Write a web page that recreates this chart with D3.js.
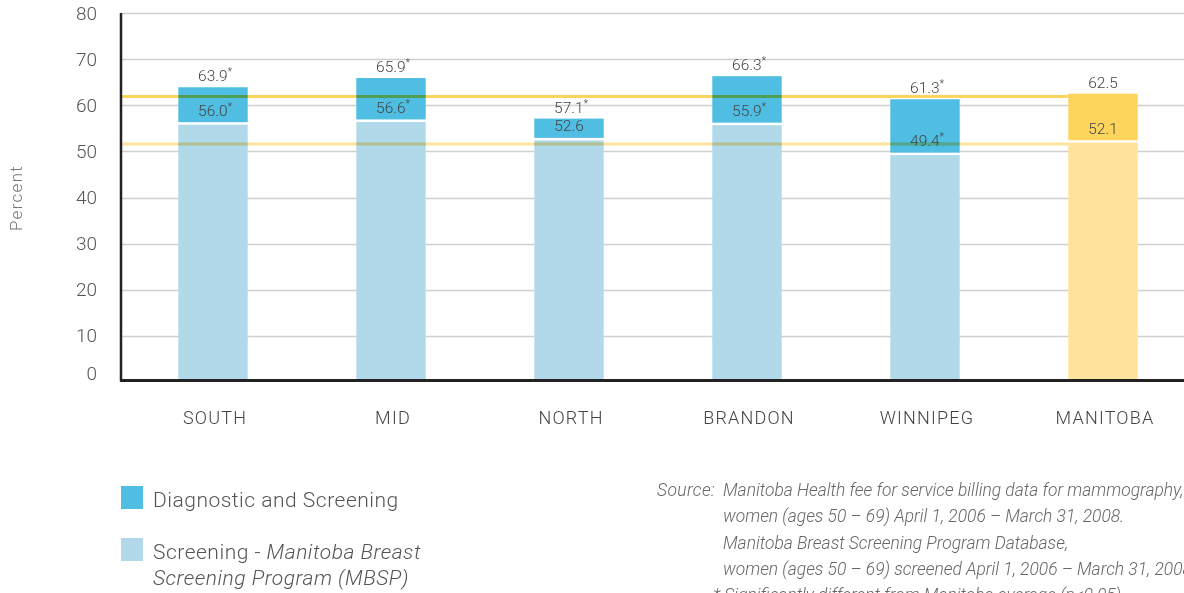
<!DOCTYPE html>
<html><head><meta charset="utf-8">
<script src="https://cdn.jsdelivr.net/npm/d3@7"></script>
<style>
body{margin:0;background:#fff;overflow:hidden;}
svg{display:block;font-family:Roboto, "Open Sans", sans-serif;}
</style></head>
<body><svg id="c" width="1184" height="593"></svg>
<script>
const categories = ["SOUTH","MID","NORTH","BRANDON","WINNIPEG","MANITOBA"];
const totalValues = [63.9,65.9,57.1,66.3,61.3,62.5];
const screeningValues = [56.0,56.6,52.6,55.9,49.4,52.1];
const totalSig = [true,true,true,true,true,false];
const screeningSig = [true,true,false,true,true,false];
const refLineValues = [61.9,51.6];
const yTicks = [0,10,20,30,40,50,60,70,80];
const legendLabels = ["Diagnostic and Screening","Screening - "];

const svg = d3.select("#c");
const x = d3.scaleBand().domain(categories).range([124,1192]).paddingInner(0.61).paddingOuter(0.305);
const y = d3.scaleLinear().domain([0,80]).range([382,13]);
const colDark = "#50bde2", colLight = "#b1d9ea", yDark="#fdd55d", yLight="#fee39b";
const isProv = c => c==="MANITOBA";

// gridlines
svg.append("g").selectAll("line").data(yTicks.filter(d=>d>0)).join("line")
  .attr("x1",121).attr("x2",1184).attr("y1",d=>Math.round(y(d))+0.5).attr("y2",d=>Math.round(y(d))+0.5)
  .attr("stroke","#cfcfcf").attr("stroke-width",1.5);

// tick labels
svg.append("g").selectAll("text").data(yTicks).join("text")
  .attr("x",97).attr("y",d=>y(d)+ (d===0? -2: 6.5)).attr("text-anchor","end")
  .attr("font-size",19).attr("fill","#555").attr("font-weight",300).text(d=>d);

// bars
const g = svg.append("g");
categories.forEach((c,i)=>{
  const x0 = x(c), w = x.bandwidth();
  g.append("rect").attr("x",x0).attr("width",w)
    .attr("y",y(totalValues[i])).attr("height",y(screeningValues[i])-y(totalValues[i])-1.5)
    .attr("fill",isProv(c)?yDark:colDark);
  g.append("rect").attr("x",x0).attr("width",w)
    .attr("y",y(screeningValues[i])+1).attr("height",380-(y(screeningValues[i])+1))
    .attr("fill",isProv(c)?yLight:colLight);
});

// reference lines
const manX = x("MANITOBA");
svg.append("g").selectAll("line").data(refLineValues).join("line")
  .attr("x1",121).attr("x2",manX).attr("y1",d=>y(d)).attr("y2",d=>y(d))
  .attr("stroke",(d,i)=>i===0?yDark:yLight).attr("stroke-width",3)
  .style("mix-blend-mode","multiply");

// value labels
function valLabel(v,sig,cx,yy){
  const t = svg.append("text").attr("x",cx).attr("y",yy).attr("text-anchor","middle")
    .attr("font-size",15.5).attr("fill","#444").attr("font-weight",300);
  t.append("tspan").text(v.toFixed(1));
  if(sig) t.append("tspan").attr("font-size",10).attr("dy",-6).text("*");
}
categories.forEach((c,i)=>{
  const cx = x(c)+x.bandwidth()/2 + (totalSig[i]?2:0);
  valLabel(totalValues[i],totalSig[i],cx,y(totalValues[i])-6);
  const cx2 = x(c)+x.bandwidth()/2 + (screeningSig[i]?2:0);
  valLabel(screeningValues[i],screeningSig[i],cx2,y(screeningValues[i])-8);
});

// axes lines
svg.append("line").attr("x1",121).attr("x2",121).attr("y1",13).attr("y2",381.5).attr("stroke","#222").attr("stroke-width",2.5);
svg.append("line").attr("x1",120).attr("x2",1184).attr("y1",380.5).attr("y2",380.5).attr("stroke","#222").attr("stroke-width",3);

// category labels
svg.append("g").selectAll("text").data(categories).join("text")
  .attr("x",d=>x(d)+x.bandwidth()/2+2).attr("y",424).attr("text-anchor","middle")
  .attr("font-size",18).attr("fill","#444").attr("letter-spacing",1.2).attr("font-weight",300).text(d=>d);

// y title
svg.append("text").attr("transform","translate(22,198) rotate(-90)").attr("text-anchor","middle")
  .attr("font-size",17).attr("letter-spacing",1.3).attr("fill","#777").attr("font-weight",300).text("Percent");

// legend
svg.append("rect").attr("x",121).attr("y",486).attr("width",22).attr("height",23).attr("fill",colDark);
svg.append("rect").attr("x",121).attr("y",538).attr("width",22).attr("height",23).attr("fill",colLight);
const lg = svg.append("g").attr("font-size",21).attr("fill","#555").attr("font-weight",300).attr("letter-spacing",0.5);
lg.append("text").attr("x",153).attr("y",507).text(legendLabels[0]);
const l2 = lg.append("text").attr("x",153).attr("y",559);
l2.append("tspan").text(legendLabels[1]);
l2.append("tspan").attr("font-style","italic").text("Manitoba Breast");
lg.append("text").attr("x",153).attr("y",585).attr("font-style","italic").text("Screening Program (MBSP)");

// source
const src = svg.append("g").attr("font-size",17.4).attr("fill","#666").attr("font-style","italic").attr("font-weight",300);
src.append("text").attr("x",657).attr("y",496).attr("letter-spacing",0.4).text("Source:");
const srcLines = ["Manitoba Health fee for service billing data for mammography,",
  "women (ages 50 – 69) April 1, 2006 – March 31, 2008.",
  "Manitoba Breast Screening Program Database,",
  "women (ages 50 – 69) screened April 1, 2006 – March 31, 2008."];
srcLines.forEach((s,i)=>src.append("text").attr("x",723).attr("y",496+i*26.3).text(s));
src.append("text").attr("x",713).attr("y",601).text("* Significantly different from Manitoba average (p<0.05)");
</script></body></html>
